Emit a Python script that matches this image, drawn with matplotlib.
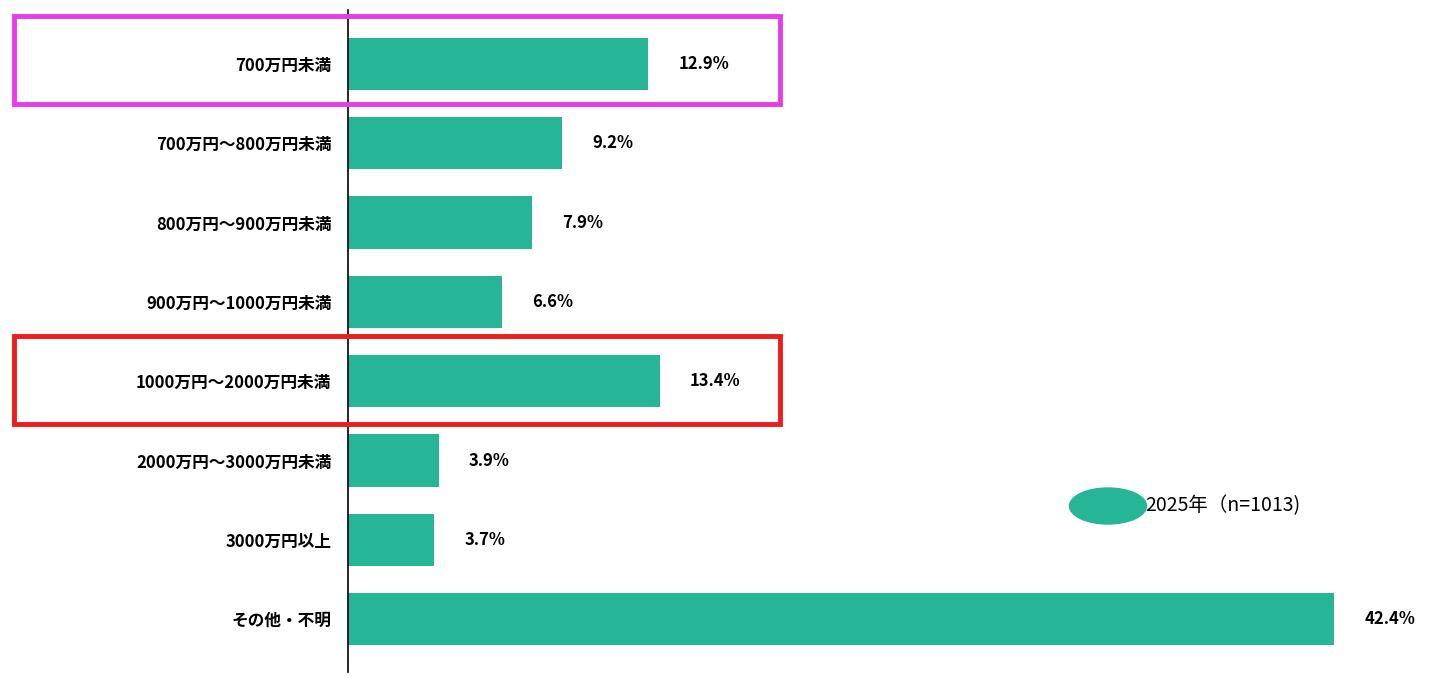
import matplotlib
matplotlib.use("Agg")
import matplotlib.pyplot as plt
from matplotlib.patches import Rectangle, Circle

plt.rcParams['font.family'] = ['Noto Sans CJK JP', 'DejaVu Sans']

categories = ["700万円未満", "700万円～800万円未満", "800万円～900万円未満", "900万円～1000万円未満",
              "1000万円～2000万円未満", "2000万円～3000万円未満", "3000万円以上", "その他・不明"]
values = [12.9, 9.2, 7.9, 6.6, 13.4, 3.9, 3.7, 42.4]
legend_label = "2025年（n=1013)"

W, H = 1452, 678
fig = plt.figure(figsize=(W/100, H/100), dpi=100)
ax = fig.add_axes([348/W, 1-672/H, (W-348)/W, (672-10)/H])
color = "#26B597"
y = list(range(len(values)))
ax.barh(y, values, height=0.66, color=color)
ax.set_ylim(7.667, -0.681)
ax.set_xlim(0, 47.46)
for i, v in enumerate(values):
    ax.text(v + 1.3, i, f"{v}%", va="center", ha="left", fontsize=12, fontweight="bold")
ax.set_yticks(y)
ax.set_yticklabels(categories, fontsize=12, fontweight="bold")
ax.tick_params(axis="y", length=0, pad=12)
ax.set_xticks([])
for s in ["top", "right", "bottom"]:
    ax.spines[s].set_visible(False)
ax.spines["left"].set_linewidth(1.2)

fig.patches.append(Rectangle((14/W, 1-104/H), 766/W, 88/H, transform=fig.transFigure,
                             fill=False, edgecolor="#E83BE8", linewidth=3.5))
fig.patches.append(Rectangle((14/W, 1-424/H), 766/W, 88/H, transform=fig.transFigure,
                             fill=False, edgecolor="#EE1C1C", linewidth=3.5))
fig.patches.append(Circle((1108/W, 1-506/H), 18/H, transform=fig.transFigure, color=color))
fig.text(1145/W, 1-506/H, legend_label, fontsize=14, va="center", ha="left")

fig.savefig("out.png", dpi=100)
